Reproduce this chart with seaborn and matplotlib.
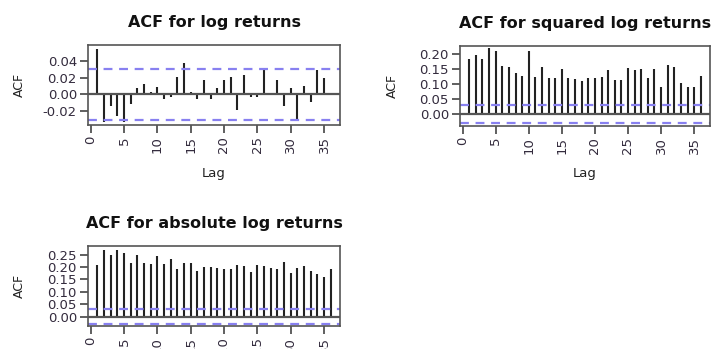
import numpy as np
import pandas as pd
import matplotlib
matplotlib.use("Agg")
import matplotlib.pyplot as plt
import seaborn as sns

# lags 1..36 (lag 0 dropped, as in the R acf plot)
lags = list(range(1, 37))

acf_log = [0.054, -0.033, -0.0135, -0.026, -0.033, -0.011, 0.007, 0.0127, 0.003, 0.0087,
           -0.0056, -0.003, 0.0206, 0.0377, 0.003, -0.0056, 0.017, -0.005, 0.008, 0.0167,
           0.0206, -0.0187, 0.023, -0.003, -0.003, 0.0286, 0.0016, 0.0167, -0.0135, 0.007,
           -0.0306, 0.0095, -0.0087, 0.0286, 0.019, 0.0005]

acf_sq = [0.182, 0.196, 0.182, 0.220, 0.211, 0.159, 0.155, 0.135, 0.126, 0.210,
          0.123, 0.158, 0.119, 0.119, 0.151, 0.120, 0.118, 0.111, 0.121, 0.119,
          0.124, 0.145, 0.112, 0.112, 0.153, 0.145, 0.151, 0.121, 0.151, 0.091,
          0.163, 0.157, 0.104, 0.091, 0.091, 0.126]

acf_abs = [0.208, 0.270, 0.249, 0.270, 0.258, 0.215, 0.249, 0.218, 0.214, 0.245,
           0.212, 0.233, 0.191, 0.215, 0.218, 0.185, 0.202, 0.202, 0.198, 0.194,
           0.191, 0.208, 0.204, 0.180, 0.208, 0.204, 0.198, 0.191, 0.220, 0.177,
           0.198, 0.204, 0.184, 0.171, 0.161, 0.194]

conf_limit = 0.0303

titles = ["ACF for log returns", "ACF for squared log returns", "ACF for absolute log returns"]
yticks = [[-0.02, 0.00, 0.02, 0.04],
          [0.00, 0.05, 0.10, 0.15, 0.20],
          [0.00, 0.05, 0.10, 0.15, 0.20, 0.25]]
ylims = [(-0.0365, 0.0587), (-0.040, 0.228), (-0.038, 0.285)]
xticks = list(range(0, 36, 5))

df = pd.DataFrame({"lag": lags, "log": acf_log, "sq": acf_sq, "abs": acf_abs})

sns.set_theme(style="white")
plt.rcParams["font.family"] = ["DejaVu Sans"]

W, H = 711, 349
fig = plt.figure(figsize=(W / 100, H / 100), dpi=100)

# panel boxes in pixels: left, top, right, bottom
boxes = [(88, 45, 340, 125), (460, 45.7, 710, 125.7), (88, 246, 340, 326)]
cols = ["log", "sq", "abs"]

text_col = "#332b3d"
for i in range(3):
    l, t, r, b = boxes[i]
    ax = fig.add_axes([l / W, (H - b) / H, (r - l) / W, (b - t) / H])
    ax.vlines(df["lag"], 0, df[cols[i]], color="#222222", linewidth=1.5)
    ax.axhline(0, color="#555555", linewidth=1.6)
    for c in (conf_limit, -conf_limit):
        ax.axhline(c, color="#8880f0", linewidth=1.6, linestyle=(0, (4, 3)))
    ax.set_xlim(-0.4, 37.4)
    ax.set_ylim(*ylims[i])
    ax.set_yticks(yticks[i])
    ax.set_yticklabels(["%.2f" % v for v in yticks[i]])
    ax.set_xticks(xticks)
    ax.set_xticklabels([str(v) for v in xticks], rotation=90)
    ax.tick_params(axis="both", direction="out", length=6, width=1.2, color="#444444",
                   labelsize=9.5, labelcolor=text_col, pad=2, bottom=True, left=True)
    for s in ax.spines.values():
        s.set_color("#555555")
        s.set_linewidth(1.2)
    ax.set_title(titles[i], fontsize=11.5, fontweight="bold", color="#111111", pad=13)
    ax.set_ylabel("ACF", fontsize=9, color="#222222")
    ax.yaxis.set_label_coords(-0.245, 0.5)
    ax.set_xlabel("Lag", fontsize=9.5, color="#222222")
    ax.xaxis.set_label_coords(0.5, -0.52)
    ax.grid(False)

plt.savefig("out.png", dpi=100)
